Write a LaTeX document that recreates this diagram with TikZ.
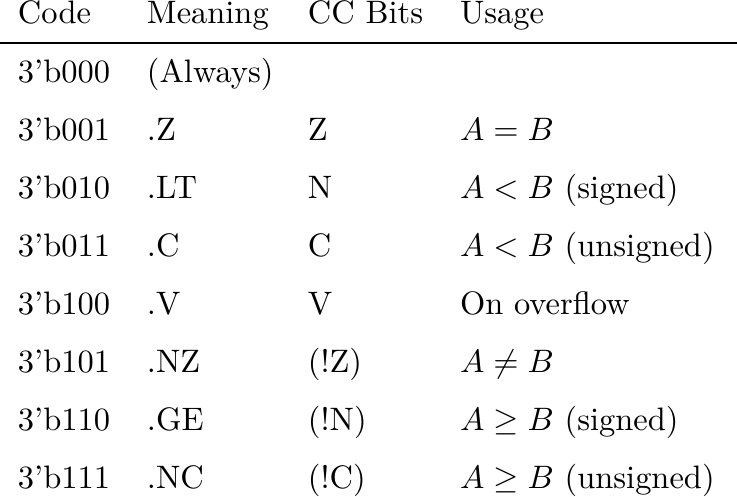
\documentclass[tikz,border=0pt]{standalone}
\usepackage{amsmath}
\begin{document}
\begin{tikzpicture}[x=0.308pt,y=-0.308pt,
  cell/.style={anchor=base west,inner sep=0pt,outer sep=0pt}]
\useasboundingbox (0,0) rectangle (737,497);
% header
\node[cell] (h1) at (18,24) {Code};
\node[cell] (h2) at (147,24) {Meaning};
\node[cell] (h3) at (308,24) {CC Bits};
\node[cell] (h4) at (460,24) {Usage};
\draw[line width=0.4pt] (0,43) -- (737,43);
% rows
\def\rowA{83}
\node[cell] (c1) at (18,83) {3'b000};
\node[cell] (m1) at (147,83) {(Always)};
\node[cell] (c2) at (18,141) {3'b001};
\node[cell] (m2) at (147,141) {.Z};
\node[cell] (b2) at (308,141) {Z};
\node[cell] (u2) at (460,141) {$A=B$};
\node[cell] (c3) at (18,199) {3'b010};
\node[cell] (m3) at (147,199) {.LT};
\node[cell] (b3) at (308,199) {N};
\node[cell] (u3) at (460,199) {$A<B$ (signed)};
\node[cell] (c4) at (18,257) {3'b011};
\node[cell] (m4) at (147,257) {.C};
\node[cell] (b4) at (308,257) {C};
\node[cell] (u4) at (460,257) {$A<B$ (unsigned)};
\node[cell] (c5) at (18,315) {3'b100};
\node[cell] (m5) at (147,315) {.V};
\node[cell] (b5) at (308,315) {V};
\node[cell] (u5) at (460,315) {On overflow};
\node[cell] (c6) at (18,373) {3'b101};
\node[cell] (m6) at (147,373) {.NZ};
\node[cell] (b6) at (308,373) {(!Z)};
\node[cell] (u6) at (460,373) {$A\neq B$};
\node[cell] (c7) at (18,431) {3'b110};
\node[cell] (m7) at (147,431) {.GE};
\node[cell] (b7) at (308,431) {(!N)};
\node[cell] (u7) at (460,431) {$A\geq B$ (signed)};
\node[cell] (c8) at (18,489) {3'b111};
\node[cell] (m8) at (147,489) {.NC};
\node[cell] (b8) at (308,489) {(!C)};
\node[cell] (u8) at (460,489) {$A\geq B$ (unsigned)};
\end{tikzpicture}
\end{document}
